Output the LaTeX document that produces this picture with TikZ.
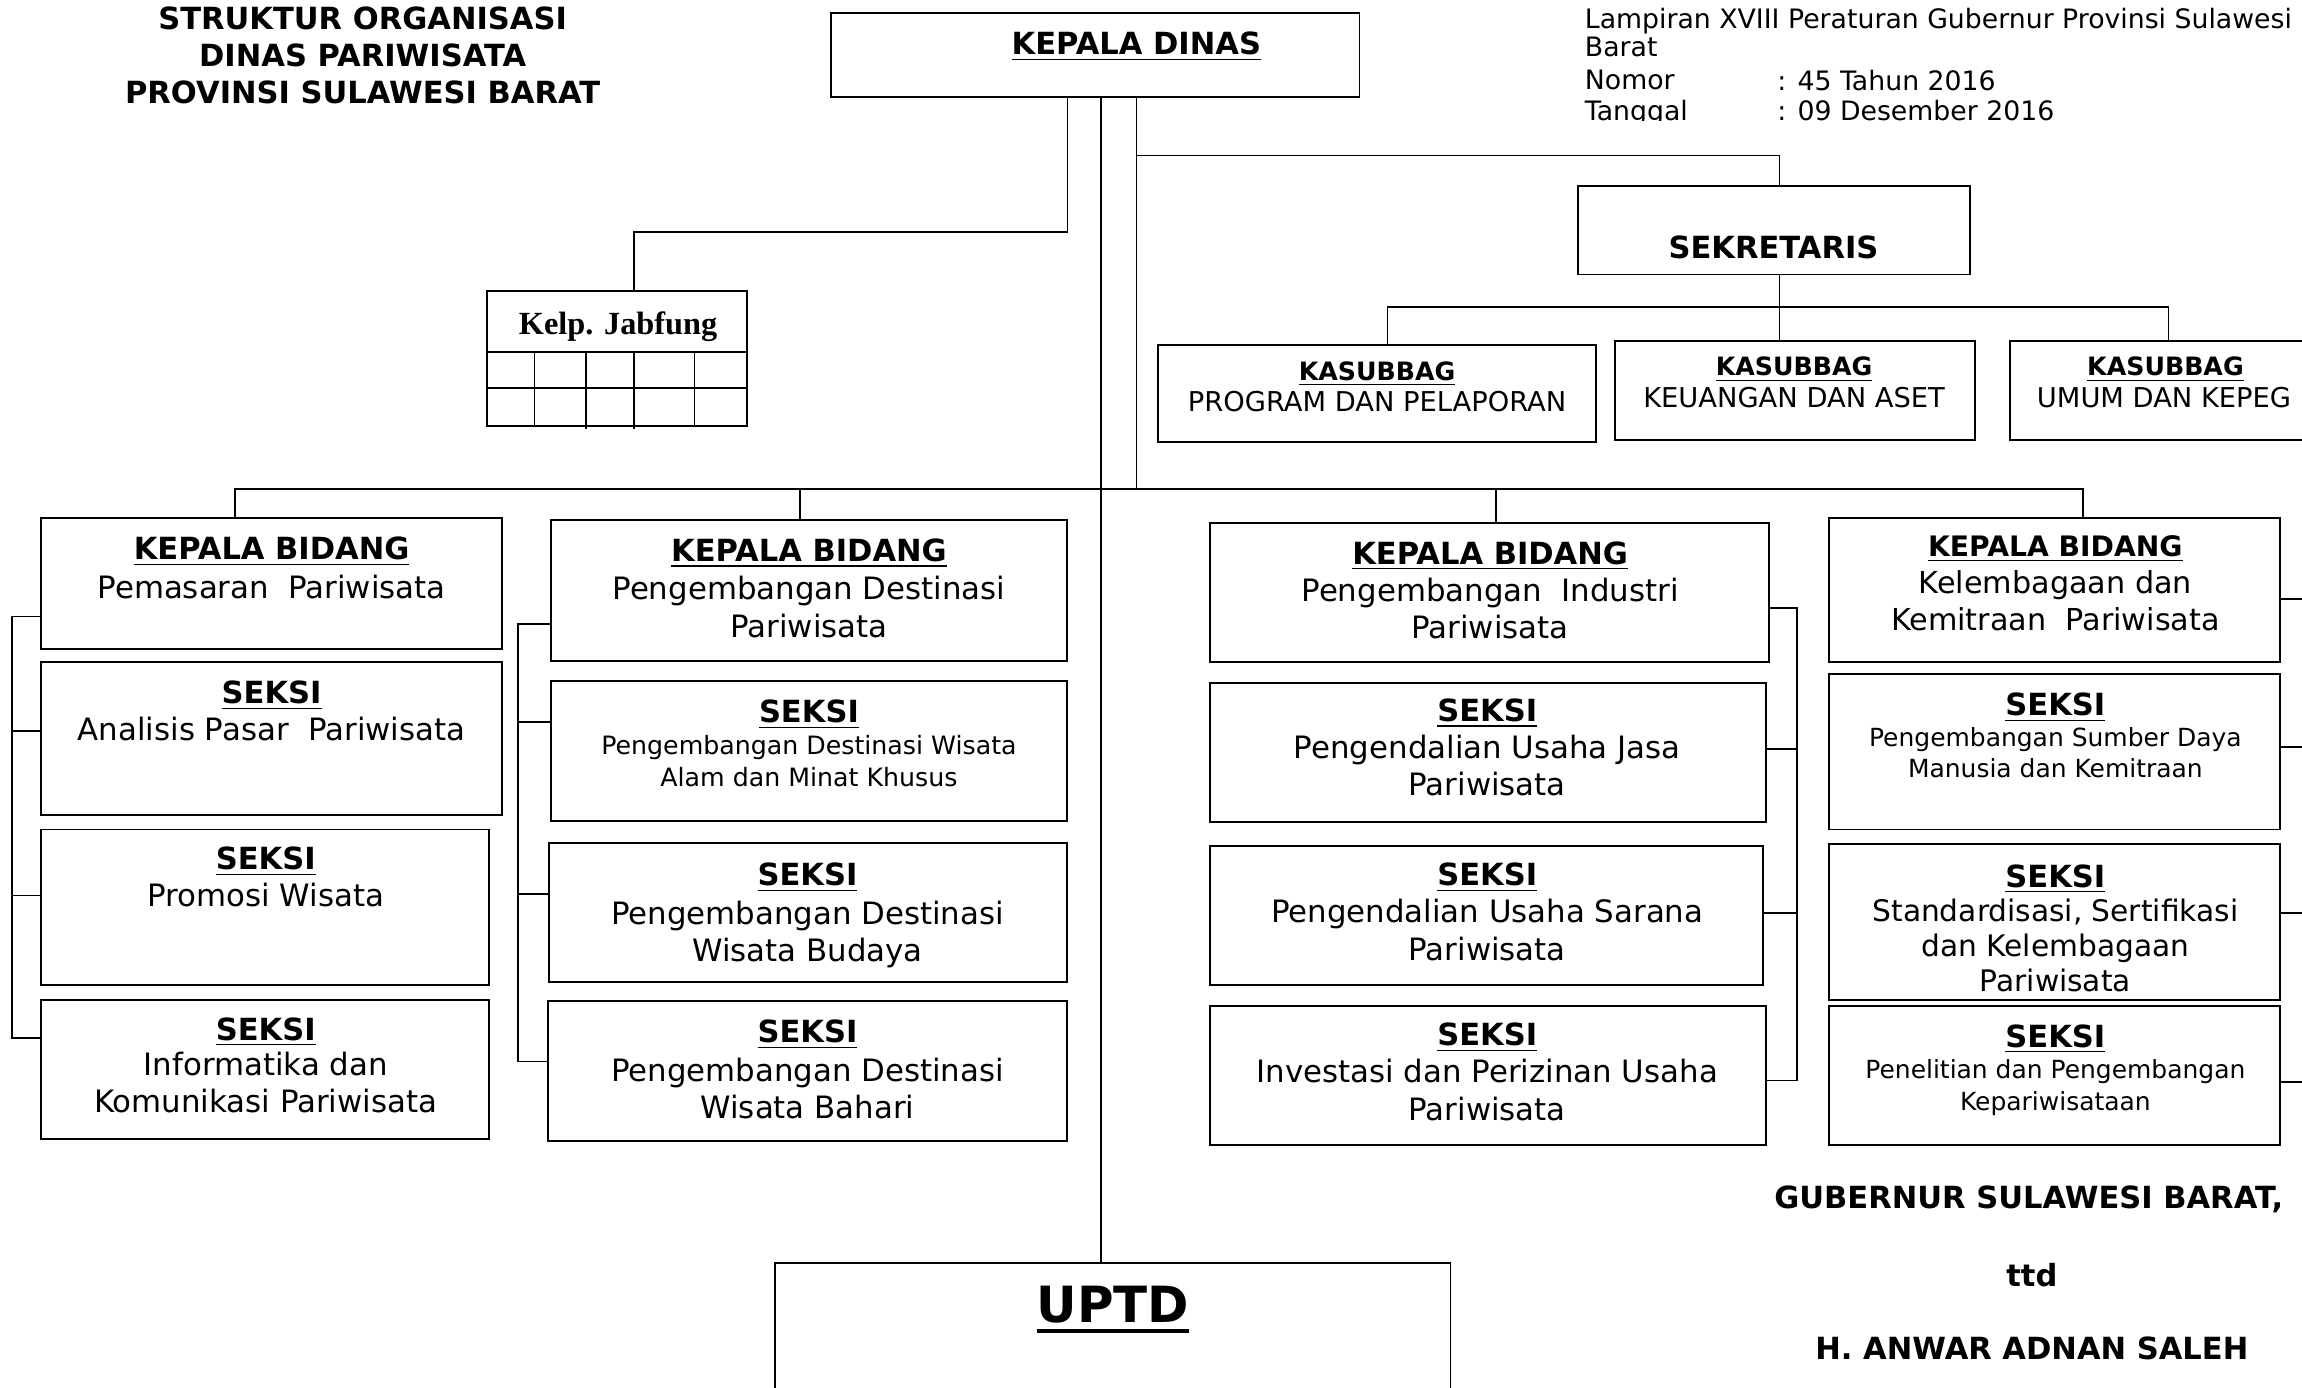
\documentclass[tikz,border=0pt]{standalone}
\usepackage{fontspec}
\setmainfont{DejaVu Sans}
\newfontfamily\jabfont{Liberation Serif}
\usetikzlibrary{fit}
\newcommand\hdu[1]{\underline{\textbf{#1}}}
\newcommand\thickul[1]{\setbox0\hbox{#1}\rlap{\rule[-3.4pt]{\wd0}{1.35pt}}\box0}
\begin{document}
\begin{tikzpicture}[x=0.5pt,y=-0.5pt,line width=0.56pt,
  box/.style={draw,line width=0.66pt,inner sep=0pt},
  hd/.style={anchor=north,inner sep=0pt,font=\bfseries\fontsize{10.4}{12.5}\selectfont},
  hdk/.style={anchor=north,inner sep=0pt,font=\bfseries\fontsize{8.6}{10.5}\selectfont},
  bd/.style={anchor=north,inner sep=0pt,align=center,font=\fontsize{10.5}{12.75}\selectfont},
  bdf/.style={anchor=north,inner sep=0pt,align=center,font=\fontsize{10.1}{11.9}\selectfont},
  bds/.style={anchor=north,inner sep=0pt,align=center,font=\fontsize{8.6}{11}\selectfont},
  bdk/.style={anchor=north,inner sep=0pt,font=\fontsize{9.3}{11}\selectfont},
  note/.style={anchor=north west,inner sep=0pt,font=\fontsize{9.1}{10.5}\selectfont},
  sig/.style={inner sep=0pt,font=\bfseries\fontsize{10.4}{12.5}\selectfont}]
\useasboundingbox (0,0) rectangle (1568,945);

% ---------- title ----------
\node[hd] (t1) at (247,4.4) {STRUKTUR ORGANISASI};
\node[hd] (t2) at (247,29.4) {DINAS PARIWISATA};
\node[hd] (t3) at (247,54.4) {PROVINSI SULAWESI BARAT};

% ---------- note top right ----------
\begin{scope}
\clip (1070,0) rectangle (1568,82);
\node[note] (n1) at (1079,5) {Lampiran XVIII Peraturan Gubernur Provinsi Sulawesi};
\node[note] (n2) at (1079,25) {Barat};
\node[note] (n3) at (1079,47) {Nomor};
\node[note] (n3v) at (1210,47) {: 45 Tahun 2016};
\node[note] (n4) at (1079,68) {Tanggal};
\node[note] (n4v) at (1210,68) {: 09 Desember 2016};
\end{scope}

% ---------- boxes ----------
\node[box,fit={(566,9)(926,66)}] (kd) {};
\node[hd] (kdt) at (774,21.4) {\hdu{KEPALA DINAS}};

\node[box,fit={(1075,127)(1342,187)}] (sek) {};
\node[hd] (sekt) at (1208,160.4) {SEKRETARIS};

\node[box,fit={(789,235)(1087,301)}] (ksb1) {};
\node[hdk] (ksb1h) at (938,245.7) {\hdu{KASUBBAG}};
\node[bdk] (ksb1b) at (938,266.2) {PROGRAM DAN PELAPORAN};
\node[box,fit={(1100,232)(1345,300)}] (ksb2) {};
\node[hdk] (ksb2h) at (1222,242.7) {\hdu{KASUBBAG}};
\node[bdk] (ksb2b) at (1222,263.2) {KEUANGAN DAN ASET};
\node[box,fit={(1369,232)(1590,300)}] (ksb3) {};
\node[hdk] (ksb3h) at (1475,242.7) {\hdu{KASUBBAG}};
\node[bdk] (ksb3b) at (1474,263.2) {UMUM DAN KEPEG};

% Kelp. Jabfung
\node[box,fit={(332,198)(509,290)}] (jab) {};
\node[anchor=north,inner sep=0pt,font=\jabfont\bfseries\fontsize{11}{13}\selectfont] (jabt) at (421,211.5) {Kelp. Jabfung};
\draw[line width=0.66pt] (332,240) -- (509,240);
\draw[line width=0.66pt] (332,264) -- (509,264);
\draw (364,240) -- (364,290);
\draw (399,240) -- (399,292);
\draw (432,240) -- (432,292);
\draw (473,240) -- (473,290);

% column 1
\node[box,fit={(28,353)(342,442)}] (kb1) {};
\node[hd] (kb1h) at (185,365.4) {\hdu{KEPALA BIDANG}};
\node[bd] (kb1b) at (185,391) {Pemasaran\ \ Pariwisata};
\node[box,fit={(28,451)(342,555)}] (s1a) {};
\node[hd] (s1ah) at (185,463.4) {\hdu{SEKSI}};
\node[bd] (s1ab) at (185,488) {Analisis Pasar\ \ Pariwisata};
\node[box,fit={(28,565)(333,671)}] (s1b) {};
\node[hd] (s1bh) at (181,576.4) {\hdu{SEKSI}};
\node[bd] (s1bb) at (181,601) {Promosi Wisata};
\node[box,fit={(28,681)(333,776)}] (s1c) {};
\node[hd] (s1ch) at (181,692.4) {\hdu{SEKSI}};
\node[bd] (s1cb) at (181,716) {Informatika dan\\Komunikasi Pariwisata};

% column 2
\node[box,fit={(375,354)(727,450)}] (kb2) {};
\node[hd] (kb2h) at (551,366.4) {\hdu{KEPALA BIDANG}};
\node[bd] (kb2b) at (551,392) {Pengembangan Destinasi\\Pariwisata};
\node[box,fit={(375,464)(727,559)}] (s2a) {};
\node[hd] (s2ah) at (551,476.4) {\hdu{SEKSI}};
\node[bds] (s2ab) at (551,500.1) {Pengembangan Destinasi Wisata\\Alam dan Minat Khusus};
\node[box,fit={(374,574)(727,669)}] (s2b) {};
\node[hd] (s2bh) at (550,587.4) {\hdu{SEKSI}};
\node[bd] (s2bb) at (550,613) {Pengembangan Destinasi\\Wisata Budaya};
\node[box,fit={(373,682)(727,777)}] (s2c) {};
\node[hd] (s2ch) at (550,694.4) {\hdu{SEKSI}};
\node[bd] (s2cb) at (550,720) {Pengembangan Destinasi\\Wisata Bahari};

% column 3
\node[box,fit={(824,356)(1205,451)}] (kb3) {};
\node[hd] (kb3h) at (1015,368.4) {\hdu{KEPALA BIDANG}};
\node[bd] (kb3b) at (1015,393) {Pengembangan\ \ Industri\\Pariwisata};
\node[box,fit={(824,465)(1203,560)}] (s3a) {};
\node[hd] (s3ah) at (1013,475.4) {\hdu{SEKSI}};
\node[bd] (s3ab) at (1013,500) {Pengendalian Usaha Jasa\\Pariwisata};
\node[box,fit={(824,576)(1201,671)}] (s3b) {};
\node[hd] (s3bh) at (1013,587.4) {\hdu{SEKSI}};
\node[bd] (s3bb) at (1013,612) {Pengendalian Usaha Sarana\\Pariwisata};
\node[box,fit={(824,685)(1203,780)}] (s3c) {};
\node[hd] (s3ch) at (1013,696.4) {\hdu{SEKSI}};
\node[bd] (s3cb) at (1013,721) {Investasi dan Perizinan Usaha\\Pariwisata};

% column 4
\node[box,fit={(1246,353)(1553,451)}] (kb4) {};
\node[hd,font=\bfseries\fontsize{9.6}{12}\selectfont] (kb4h) at (1400,364) {\hdu{KEPALA BIDANG}};
\node[bd,font=\fontsize{10.3}{12.6}\selectfont] (kb4b) at (1400,388) {Kelembagaan dan\\Kemitraan\ \ Pariwisata};
\node[box,fit={(1246,459)(1553,565)}] (s4a) {};
\node[hd] (s4ah) at (1400,471.4) {\hdu{SEKSI}};
\node[bds,font=\fontsize{8.5}{10.6}\selectfont] (s4ab) at (1400,495.1) {Pengembangan Sumber Daya\\Manusia dan Kemitraan};
\node[box,fit={(1246,575)(1553,681)}] (s4b) {};
\node[hd] (s4bh) at (1400,588.4) {\hdu{SEKSI}};
\node[bdf] (s4bb) at (1400,612) {Standardisasi, Sertifikasi\\dan Kelembagaan\\Pariwisata};
\node[box,fit={(1246,685)(1553,780)}] (s4c) {};
\node[hd] (s4ch) at (1400,697.4) {\hdu{SEKSI}};
\node[bds,font=\fontsize{8.5}{11}\selectfont] (s4cb) at (1400,721.1) {Penelitian dan Pengembangan\\Kepariwisataan};

% UPTD
\node[box,fit={(528,860)(988,960)}] (uptd) {};
\node[anchor=north,inner sep=0pt,font=\bfseries\fontsize{17}{20}\selectfont] (uptdt) at (758,875.6) {\thickul{UPTD}};

% signature
\node[sig,anchor=north west] (g1) at (1208,807) {GUBERNUR SULAWESI BARAT,};
\node[sig,anchor=north] (g2) at (1384,860) {ttd};
\node[sig,anchor=north] (g3) at (1384,910) {H. ANWAR ADNAN SALEH};

% ---------- connectors ----------
\coordinate (jA) at (727,158);
\coordinate (jB) at (432,158);
\draw (kd.south -| jA) -- (jA) -- (jB) -- (jB |- jab.north);
\coordinate (cM) at (750,333);
\draw (kd.south -| cM) -- (uptd.north -| cM);
\coordinate (cR) at (774,333);
\draw (kd.south -| cR) -- (cR);
\coordinate (sA) at (774,106);
\coordinate (sB) at (1212,106);
\draw (sA) -- (sB) -- (sB |- sek.north);

\coordinate (kA) at (945,209);
\coordinate (kB) at (1212,209);
\coordinate (kC) at (1477,209);
\draw (kB |- sek.south) -- (kB |- ksb2.north);
\draw (kA |- ksb1.north) -- (kA) -- (kC) -- (kC |- ksb3.north);

\coordinate (bA) at (160,333);
\coordinate (bB) at (545,333);
\coordinate (bC) at (1019,333);
\coordinate (bD) at (1419,333);
\draw (bA |- kb1.north) -- (bA) -- (bD) -- (bD |- kb4.north);
\draw (bB) -- (bB |- kb2.north);
\draw (bC) -- (bC |- kb3.north);

% column 1 bracket
\coordinate (lA) at (8,420);
\coordinate (lB) at (8,498);
\coordinate (lC) at (8,610);
\coordinate (lD) at (8,707);
\draw (lA -| kb1.west) -- (lA) -- (lD) -- (lD -| s1c.west);
\draw (lB) -- (lB -| s1a.west);
\draw (lC) -- (lC -| s1b.west);

% column 2 bracket
\coordinate (mA) at (353,425);
\coordinate (mB) at (353,492);
\coordinate (mC) at (353,609);
\coordinate (mD) at (353,723);
\draw (mA -| kb2.west) -- (mA) -- (mD) -- (mD -| s2c.west);
\draw (mB) -- (mB -| s2a.west);
\draw (mC) -- (mC -| s2b.west);

% column 3 bracket
\coordinate (rA) at (1224,414);
\coordinate (rB) at (1224,510);
\coordinate (rC) at (1224,622);
\coordinate (rD) at (1224,736);
\draw (rA -| kb3.east) -- (rA) -- (rD) -- (rD -| s3c.east);
\draw (rB) -- (rB -| s3a.east);
\draw (rC) -- (rC -| s3b.east);

% column 4 bracket (runs off the page)
\coordinate (qA) at (1575,408);
\coordinate (qB) at (1575,509);
\coordinate (qC) at (1575,622);
\coordinate (qD) at (1575,737);
\draw (qA -| kb4.east) -- (qA) -- (qD) -- (qD -| s4c.east);
\draw (qB) -- (qB -| s4a.east);
\draw (qC) -- (qC -| s4b.east);
\end{tikzpicture}
\end{document}
